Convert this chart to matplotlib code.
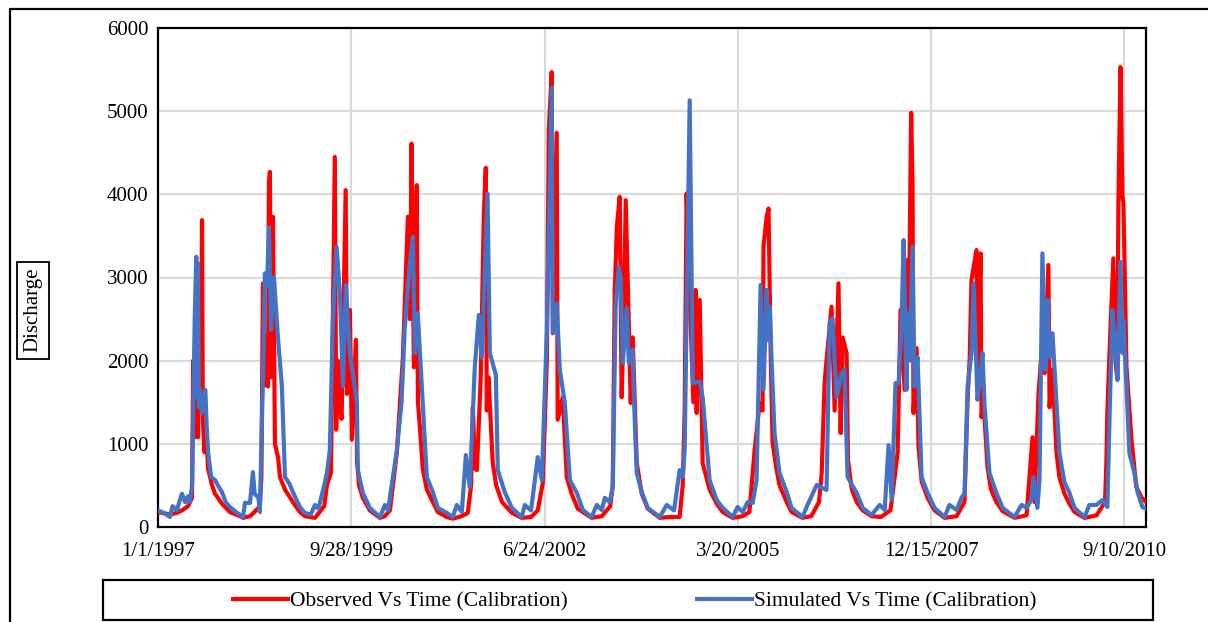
import numpy as np
import pandas as pd
import matplotlib
matplotlib.use("Agg")
import matplotlib.pyplot as plt
from matplotlib.lines import Line2D
from matplotlib.patches import Rectangle

# days counted from 1/1/1997
obs_days = [0, 62, 98, 124, 155, 176, 182, 190, 200, 207, 212, 220, 228, 232, 240, 248, 259, 280, 295, 331, 372, 424, 440, 476, 491, 527, 535,
            543, 552, 560, 569, 574, 579, 585, 595, 605, 621, 631, 657, 698, 734, 760, 812, 860, 874, 895,
            915, 922, 931, 940, 950, 971, 978, 993, 1003, 1024, 1030, 1040, 1060, 1096, 1148, 1174, 1200, 1236,
            1267, 1293, 1303, 1312, 1324, 1339, 1345, 1355, 1370, 1391, 1422, 1448, 1494, 1525, 1572, 1603, 1620,
            1629, 1640, 1650, 1670, 1686, 1696, 1701, 1710, 1732, 1750, 1780, 1831, 1882, 1930, 1965, 1991,
            2012, 2022, 2037, 2043, 2063, 2068, 2094, 2115, 2140, 2172, 2244, 2296, 2340, 2353,
            2363, 2374, 2389, 2399, 2410, 2420, 2430, 2446, 2456, 2477, 2503, 2534, 2596, 2650, 2699, 2715,
            2725, 2735, 2751, 2770, 2782, 2787, 2803, 2818, 2854, 2891, 2922, 2973, 3025, 3060, 3087,
            3113, 3128, 3133, 3149, 3159, 3170, 3180, 3200, 3216, 3253, 3278, 3335, 3380, 3420, 3434,
            3449, 3459, 3485, 3501, 3521, 3532, 3542, 3563, 3570, 3590, 3615, 3646, 3692, 3740, 3790,
            3827, 3842, 3863, 3878, 3883, 3897, 3904, 3909, 3925, 3935, 3951, 3982, 4018, 4070, 4132, 4173,
            4189, 4200, 4209, 4235, 4240, 4256, 4261, 4271, 4292, 4310, 4338, 4370, 4432, 4494,
            4525, 4535, 4556, 4571, 4587, 4607, 4613, 4628, 4649, 4664, 4690, 4716, 4742, 4794, 4856, 4900,
            4907, 4912, 4923, 4943, 4954, 4964, 4969, 4980, 4990, 4995, 5011, 5037, 5062, 5090, 5112]
obs_vals = [180, 150, 170, 200, 250, 350, 2000, 1300, 1080, 1080, 2200, 1500, 3690, 1300, 900, 1200, 700, 500, 400, 280, 180, 130, 110, 130, 160, 250, 600,
            2930, 1700, 2300, 1690, 4130, 4270, 1800, 3730, 1000, 840, 600, 450, 300, 180, 130, 110, 250, 500, 650,
            4450, 1170, 2000, 1500, 1300, 4050, 1600, 2610, 1050, 2250, 800, 500, 350, 200, 110, 130, 200, 900,
            2040, 3730, 2500, 4610, 1920, 4110, 1500, 1200, 700, 450, 300, 180, 120, 100, 130, 170, 500,
            1440, 700, 685, 1800, 3770, 4320, 1400, 1800, 770, 500, 300, 170, 110, 120, 200, 530,
            2000, 4770, 5470, 2330, 4740, 1290, 1560, 600, 400, 220, 110, 130, 250, 500,
            2810, 3610, 3970, 1560, 2500, 3930, 3000, 1490, 2280, 770, 400, 220, 110, 120, 120, 500,
            1400, 4010, 2800, 1500, 2850, 1370, 2730, 770, 450, 280, 180, 110, 130, 180, 925,
            1490, 1400, 3370, 3730, 3830, 2090, 1010, 700, 500, 300, 180, 110, 130, 300, 650,
            1730, 2000, 2650, 1400, 2930, 1130, 2280, 2090, 800, 450, 300, 200, 130, 120, 200,
            890, 2610, 1650, 3210, 2040, 4980, 4130, 1370, 2150, 960, 550, 350, 200, 110, 130, 300,
            1550, 2040, 2970, 3330, 1690, 3290, 1320, 1530, 720, 450, 300, 190, 110, 140,
            1080, 300, 1610, 2090, 1850, 3150, 1440, 1890, 890, 600, 400, 280, 180, 110, 140, 300,
            770, 1370, 2090, 3230, 2000, 1770, 3850, 5530, 3970, 3900, 1920, 1050, 480, 350, 300]

sim_days = [0, 30, 62, 75, 98, 110, 124, 140, 155, 165, 176, 190, 198, 202, 206, 212, 218, 226, 245, 252, 259, 275, 295, 310, 331, 350, 372, 410,
            440, 450, 476, 491, 500, 520, 527, 545, 553, 564, 574, 585, 600, 620, 641, 657, 680, 698, 734, 760, 790,
            812, 830, 860, 874, 889, 905, 924, 941, 957, 972, 993, 1029, 1034, 1060, 1096, 1148, 1174, 1190,
            1236, 1260, 1277, 1303, 1319, 1329, 1344, 1370, 1391, 1422, 1448, 1494, 1525, 1546, 1572, 1593,
            1613, 1639, 1660, 1675, 1705, 1717, 1748, 1758, 1794, 1831, 1882, 1898, 1930, 1965, 1986,
            2012, 2037, 2043, 2063, 2079, 2105, 2131, 2167, 2198, 2244, 2270, 2296, 2312, 2337, 2353,
            2368, 2384, 2394, 2405, 2425, 2436, 2456, 2461, 2477, 2503, 2534, 2596, 2632, 2670, 2699, 2715,
            2725, 2751, 2767, 2803, 2818, 2854, 2891, 2922, 2973, 2999, 3025, 3051, 3077, 3097,
            3118, 3133, 3149, 3154, 3165, 3175, 3190, 3216, 3253, 3278, 3335, 3356, 3408, 3428, 3459,
            3475, 3490, 3511, 3537, 3552, 3568, 3615, 3646, 3692, 3734, 3760, 3780, 3796, 3816, 3832,
            3847, 3858, 3873, 3878, 3889, 3904, 3914, 3930, 3951, 3982, 4018, 4070, 4095, 4132, 4157, 4173,
            4189, 4209, 4220, 4240, 4251, 4266, 4276, 4302, 4338, 4370, 4432, 4468, 4494, 4519, 4530, 4550, 4561,
            4576, 4592, 4602, 4613, 4628, 4649, 4664, 4690, 4716, 4742, 4794, 4819, 4856, 4887, 4912,
            4923, 4938, 4954, 4964, 4980, 4990, 4995, 5011, 5026, 5052, 5068, 5093, 5112]
sim_vals = [200, 170, 120, 250, 200, 300, 400, 300, 370, 300, 500, 2500, 3249, 1560, 3170, 1440, 1650, 1370, 1650, 1200, 900, 600, 565, 500, 420, 300, 240, 170,
            120, 290, 290, 660, 400, 350, 180, 2000, 3050, 2900, 3600, 2370, 3000, 2300, 1690, 600, 520, 420, 240, 170, 150,
            265, 220, 500, 650, 925, 2500, 3370, 2810, 1690, 2910, 2090, 1490, 685, 410, 230, 120, 265, 200,
            925, 1500, 2400, 3170, 3490, 2090, 2570, 1490, 600, 420, 230, 170, 120, 265, 180, 865,
            480, 1920, 2550, 2040, 4010, 2090, 1830, 685, 420, 230, 120, 265, 200, 840, 565,
            2370, 5280, 2330, 2690, 1890, 1490, 565, 410, 205, 120, 265, 205, 350, 300, 480,
            2650, 3130, 3000, 1970, 2630, 1970, 2130, 1650, 650, 420, 230, 120, 265, 200, 685, 600,
            925, 5130, 1730, 1750, 1560, 565, 325, 230, 120, 240, 180, 300, 290, 565,
            2910, 1650, 2850, 2250, 2650, 2000, 1130, 650, 420, 230, 120, 240, 505, 480, 445,
            2450, 2510, 1560, 1850, 1890, 600, 410, 230, 145, 265, 205, 985, 325, 1730, 1730,
            2450, 3450, 1650, 2570, 2000, 3370, 1690, 2040, 600, 410, 230, 120, 265, 205, 350, 410,
            1690, 2090, 2930, 1530, 1730, 2090, 1490, 650, 410, 230, 120, 265, 230, 325, 600, 230, 565,
            3290, 1890, 2730, 2040, 2330, 1490, 890, 540, 410, 230, 120, 265, 265, 325, 240,
            1290, 2610, 2170, 1770, 3190, 2090, 2490, 1690, 890, 650, 420, 240, 220]

tick_days = [0, 1000, 2000, 3000, 4000, 5000]
y_ticks = [0, 1000, 2000, 3000, 4000, 5000, 6000]

start = pd.Timestamp("1997-01-01")
obs_dates = start + pd.to_timedelta(obs_days, unit="D")
sim_dates = start + pd.to_timedelta(sim_days, unit="D")
tick_dates = start + pd.to_timedelta(tick_days, unit="D")
tick_labels = [f"{d.month}/{d.day}/{d.year}" for d in tick_dates]

plt.rcParams['font.family'] = ['Liberation Serif', 'DejaVu Serif']

fig = plt.figure(figsize=(12.08, 6.22), dpi=100)
ax = fig.add_axes([158/1208, 1-527/622, (1146-158)/1208, (527-28)/622])

ax.plot(obs_dates, obs_vals, color="#FF0000", lw=3.0, label="Observed Vs Time (Calibration)", zorder=3)
ax.plot(sim_dates, sim_vals, color="#4472C4", lw=3.0, label="Simulated Vs Time (Calibration)", zorder=4)

ax.set_xlim(start, start + pd.Timedelta(days=5112))
ax.set_ylim(0, 6000)
ax.set_xticks(tick_dates)
ax.set_xticklabels(tick_labels)
ax.set_yticks(y_ticks)
ax.tick_params(axis="both", length=0, labelsize=15, colors="black")
ax.tick_params(axis="x", pad=11)
ax.tick_params(axis="y", pad=7)
ax.grid(True, color="#d9d9d9", lw=1.5, zorder=0)
ax.set_axisbelow(True)
for sp in ax.spines.values():
    sp.set_color("black")
    sp.set_linewidth(1.6)

# y label in a box
fig.text(33/1208, 1-310/622, "Discharge", rotation=90, ha="center", va="center", fontsize=15,
         bbox=dict(boxstyle="square,pad=0.3", fc="white", ec="black", lw=1.3))

# legend with its own frame
fig.patches.append(Rectangle((103/1208, 1-620/622), (1153-103)/1208, (620-580)/622,
                             transform=fig.transFigure, fill=False, ec="black", lw=1.6))
fig.legend(loc="center", bbox_to_anchor=(635/1208, 1-601/622), ncol=2, frameon=False,
           fontsize=15.5, handlelength=2.55, handletextpad=0.1, columnspacing=6.0)

# outer frame (cropped chart area)
fig.lines.append(Line2D([10/1208, 10/1208, 1.0], [0.0, 1-9/622, 1-9/622], transform=fig.transFigure,
                        color="black", lw=1.6))

fig.savefig("out.png", dpi=100)
